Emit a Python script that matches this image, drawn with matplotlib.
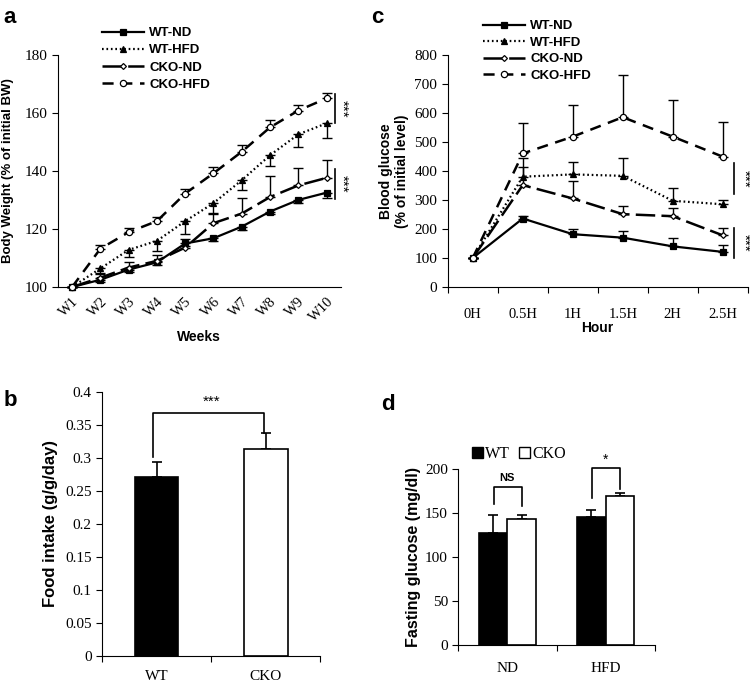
import numpy as np
import matplotlib
matplotlib.use("Agg")
import matplotlib.pyplot as plt
from matplotlib.lines import Line2D
from matplotlib.patches import Patch

plt.rcParams['font.family'] = 'Liberation Serif'
plt.rcParams['lines.scale_dashes'] = False

SANS = 'Liberation Sans'

# ---- panel a: body weight ----
weeks = ['W1', 'W2', 'W3', 'W4', 'W5', 'W6', 'W7', 'W8', 'W9', 'W10']
bw_wt_nd = [100, 102.5, 106, 108.5, 115, 116.8, 120.8, 126, 130, 132.5]
bw_wt_nd_err = [0, 0.8, 0.8, 1, 1, 1, 1, 1, 1, 1.8]
bw_wt_hfd = [100, 106.4, 112.8, 115.9, 122.7, 128.9, 136.8, 145.4, 152.6, 156.4]
bw_wt_hfd_err = [0, 1.6, 2.5, 3.5, 4.5, 3.5, 3.5, 3.8, 4.3, 5.1]
bw_cko_nd = [100, 103.2, 106.7, 109, 113.6, 122, 125.3, 131, 135, 137.6]
bw_cko_nd_err = [0, 1.2, 2, 2, 3, 3, 5.4, 7.2, 6, 6]
bw_cko_hfd = [100, 113.2, 118.9, 122.7, 132.2, 139.2, 146.6, 155, 160.8, 165]
bw_cko_hfd_err = [0, 1.2, 1.5, 1.5, 1.5, 2.2, 2.2, 2.6, 2, 2]

# ---- panel c: glucose tolerance ----
hours = ['0H', '0.5H', '1H', '1.5H', '2H', '2.5H']
gt_wt_nd = [100, 236, 182, 170, 140, 121]
gt_wt_nd_err = [0, 8, 19, 22, 30, 23]
gt_wt_hfd = [100, 380, 388, 383, 297, 285]
gt_wt_hfd_err = [0, 66, 41, 60, 45, 14]
gt_cko_nd = [100, 351, 305, 251, 244, 178]
gt_cko_nd_err = [0, 61, 60, 29, 29, 26]
gt_cko_hfd = [100, 460, 518, 585, 518, 449]
gt_cko_hfd_err = [0, 106, 108, 146, 126, 118]

# ---- panel b: food intake ----
fi_groups = ['WT', 'CKO']
fi_vals = [0.271, 0.314]
fi_err = [0.023, 0.023]

# ---- panel d: fasting glucose ----
fg_diets = ['ND', 'HFD']
fg_wt = [128, 146]
fg_wt_err = [20, 8]
fg_cko = [143.5, 169.6]
fg_cko_err = [4.5, 3]

fig = plt.figure(figsize=(7.5, 6.85), dpi=100)

styles = [
    dict(ls='-', marker='s', ms=4.5, mfc='black', lw=1.6),
    dict(ls=(0, (1.2, 2.0)), marker='^', ms=4.5, mfc='black', lw=1.6),
    dict(ls=(0, (14, 4.5)), marker='D', ms=3, mfc='white', lw=1.8),
    dict(ls=(0, (8, 5.5)), marker='o', ms=4.5, mfc='white', lw=1.8),
]
names = ['WT-ND', 'WT-HFD', 'CKO-ND', 'CKO-HFD']


def line_panel(ax, series, errs, down):
    x = np.arange(1, len(series[0]) + 1)
    for s, e, st, d in zip(series, errs, styles, down):
        e = np.array(e)
        yerr = [e, np.zeros_like(e)] if d else [np.zeros_like(e), e]
        ax.errorbar(x, s, yerr=yerr, fmt='none', ecolor='black', elinewidth=1,
                    capsize=3.5, capthick=1, clip_on=False, zorder=2)
        ax.plot(x, s, color='black', mec='black', mew=0.9, clip_on=False,
                zorder=3, **st)
    for sp in ['top', 'right']:
        ax.spines[sp].set_visible(False)
    ax.set_xlim(0.5, len(series[0]) + 0.5)


def legend_handles():
    return [Line2D([], [], color='black', mec='black', mew=0.9, **st) for st in styles]


# panel a
ax_a = fig.add_axes([0.0773, 0.581, 0.377, 0.339])
line_panel(ax_a, [bw_wt_nd, bw_wt_hfd, bw_cko_nd, bw_cko_hfd],
           [bw_wt_nd_err, bw_wt_hfd_err, bw_cko_nd_err, bw_cko_hfd_err],
           [True, True, False, False])
ax_a.set_ylim(100, 180)
ax_a.set_yticks([100, 120, 140, 160, 180])
ax_a.set_xticks(np.arange(1, 11))
ax_a.set_xticklabels(weeks, rotation=45, ha='right', va='top', fontsize=10.5,
                     rotation_mode='anchor')
ax_a.tick_params(axis='x', length=0, pad=6)
ax_a.tick_params(axis='y', labelsize=11, direction='out', length=4)
ax_a.set_ylabel('Body Weight (% of initial BW)', family=SANS, fontweight='bold',
                fontsize=9.5, labelpad=8)
ax_a.set_xlabel('Weeks', family=SANS, fontweight='bold', fontsize=10, labelpad=4)
ax_a.legend(legend_handles(), names, loc='upper left', bbox_to_anchor=(0.155, 1.12),
            frameon=False, borderpad=0, borderaxespad=0, handlelength=3.2,
            handletextpad=0.4, labelspacing=0.38,
            prop=dict(family=SANS, weight='bold', size=9.5))
ax_a.plot([10.29, 10.29], [156.5, 166.6], color='black', lw=1.2, clip_on=False)
ax_a.plot([10.29, 10.29], [130.4, 140.6], color='black', lw=1.2, clip_on=False)
ax_a.text(10.55, 161.5, '***', rotation=270, ha='center', va='center', fontsize=11,
          family=SANS)
ax_a.text(10.55, 135.5, '***', rotation=270, ha='center', va='center', fontsize=11,
          family=SANS)

# panel c
ax_c = fig.add_axes([0.597, 0.581, 0.4, 0.339])
line_panel(ax_c, [gt_wt_nd, gt_wt_hfd, gt_cko_nd, gt_cko_hfd],
           [gt_wt_nd_err, gt_wt_hfd_err, gt_cko_nd_err, gt_cko_hfd_err],
           [False, False, False, False])
ax_c.set_ylim(0, 800)
ax_c.set_yticks(np.arange(0, 801, 100))
ax_c.set_xticks(np.arange(0.5, 7, 1))
ax_c.set_xticklabels([])
ax_c.set_xticks(np.arange(1, 7), minor=True)
ax_c.set_xticklabels(hours, minor=True, fontsize=10.5)
ax_c.tick_params(axis='x', which='major', direction='out', length=4)
ax_c.tick_params(axis='x', which='minor', length=0, pad=15)
ax_c.tick_params(axis='y', labelsize=11, direction='out', length=4)
ax_c.set_ylabel('Blood glucose\n(% of initial level)', family=SANS,
                fontweight='bold', fontsize=10, labelpad=4)
ax_c.set_xlabel('Hour', family=SANS, fontweight='bold', fontsize=10, labelpad=0)
ax_c.legend(legend_handles(), names, loc='upper left', bbox_to_anchor=(0.117, 1.15),
            frameon=False, borderpad=0, borderaxespad=0, handlelength=3.2,
            handletextpad=0.4, labelspacing=0.33,
            prop=dict(family=SANS, weight='bold', size=9.5))
ax_c.plot([6.22, 6.22], [322, 426], color='black', lw=1.2, clip_on=False)
ax_c.plot([6.22, 6.22], [101, 204], color='black', lw=1.2, clip_on=False)
ax_c.text(6.42, 374, '***', rotation=270, ha='center', va='center', fontsize=11,
          family=SANS)
ax_c.text(6.42, 152, '***', rotation=270, ha='center', va='center', fontsize=11,
          family=SANS)

# panel b
ax_b = fig.add_axes([0.136, 0.0428, 0.291, 0.385])
xb = np.arange(len(fi_groups))
ax_b.bar(xb, fi_vals, width=0.4, color=['black', 'white'], edgecolor='black',
         linewidth=1.2, zorder=2)
ax_b.errorbar(xb, fi_vals, yerr=[[0, 0], fi_err], fmt='none', ecolor='black',
              elinewidth=1.2, capsize=3.5, capthick=1.2, zorder=1)
ax_b.set_xlim(-0.5, 1.5)
ax_b.set_ylim(0, 0.4)
ax_b.set_yticks(np.arange(0, 0.41, 0.05))
ax_b.set_yticklabels(['0', '0.05', '0.1', '0.15', '0.2', '0.25', '0.3', '0.35', '0.4'])
ax_b.set_xticks([-0.5, 0.5, 1.5])
ax_b.set_xticklabels([])
ax_b.set_xticks(xb, minor=True)
ax_b.set_xticklabels(fi_groups, minor=True, fontsize=11)
ax_b.tick_params(axis='x', which='major', direction='out', length=4)
ax_b.tick_params(axis='x', which='minor', length=0, pad=10)
ax_b.tick_params(axis='y', labelsize=11, direction='out', length=4)
for sp in ['top', 'right']:
    ax_b.spines[sp].set_visible(False)
ax_b.set_ylabel('Food intake (g/g/day)', family=SANS, fontweight='bold',
                fontsize=12, labelpad=5)
ax_b.plot([-0.03, -0.03, 0.98, 0.98], [0.302, 0.3676, 0.3676, 0.337], color='black',
          lw=1.2)
ax_b.text(0.5, 0.374, '***', ha='center', va='bottom', fontsize=11, family=SANS)

# panel d
ax_d = fig.add_axes([0.611, 0.0584, 0.262, 0.2565])
xd = np.arange(len(fg_diets))
bw = 0.29
ax_d.bar(xd - bw / 2, fg_wt, width=bw, color='black', edgecolor='black', lw=1.2,
         zorder=2)
ax_d.bar(xd + bw / 2, fg_cko, width=bw, color='white', edgecolor='black', lw=1.2,
         zorder=2)
ax_d.errorbar(xd - bw / 2, fg_wt, yerr=[[0, 0], fg_wt_err], fmt='none',
              ecolor='black', elinewidth=1.2, capsize=3.5, capthick=1.2, zorder=1)
ax_d.errorbar(xd + bw / 2, fg_cko, yerr=[[0, 0], fg_cko_err], fmt='none',
              ecolor='black', elinewidth=1.2, capsize=3.5, capthick=1.2, zorder=1)
ax_d.set_xlim(-0.5, 1.5)
ax_d.set_ylim(0, 200)
ax_d.set_yticks(np.arange(0, 201, 50))
ax_d.set_xticks([-0.5, 0.5, 1.5])
ax_d.set_xticklabels([])
ax_d.set_xticks(xd, minor=True)
ax_d.set_xticklabels(fg_diets, minor=True, fontsize=11)
ax_d.tick_params(axis='x', which='major', direction='out', length=4)
ax_d.tick_params(axis='x', which='minor', length=0, pad=12)
ax_d.tick_params(axis='y', labelsize=11, direction='out', length=4)
for sp in ['top', 'right']:
    ax_d.spines[sp].set_visible(False)
ax_d.set_ylabel('Fasting glucose (mg/dl)', family=SANS, fontweight='bold',
                fontsize=11.5, labelpad=3)
ax_d.plot([-0.14, -0.14, 0.15, 0.15], [161, 180.3, 180.3, 158], color='black', lw=1.2)
ax_d.text(0.0, 184, 'NS', ha='center', va='bottom', fontsize=8, family=SANS,
          fontweight='bold')
ax_d.plot([0.86, 0.86, 1.15, 1.15], [167, 201, 201, 178], color='black', lw=1.2,
          clip_on=False)
ax_d.text(1.0, 203, '*', ha='center', va='bottom', fontsize=10, family=SANS)
ax_d.legend([Patch(facecolor='black', edgecolor='black'),
             Patch(facecolor='white', edgecolor='black')], ['WT', 'CKO'],
            loc='upper left', bbox_to_anchor=(0.07, 1.13), ncol=2, frameon=False,
            borderpad=0, borderaxespad=0, handlelength=0.7, handleheight=0.7,
            handletextpad=0.1, columnspacing=0.6, fontsize=11.5)

# panel letters
for lbl, (x, y) in zip('abcd', [(0.005, 0.975), (0.005, 0.415), (0.495, 0.975),
                                 (0.508, 0.41)]):
    fig.text(x, y, lbl, family=SANS, fontweight='bold', fontsize=16, va='center')

fig.savefig('out.png', dpi=100)
